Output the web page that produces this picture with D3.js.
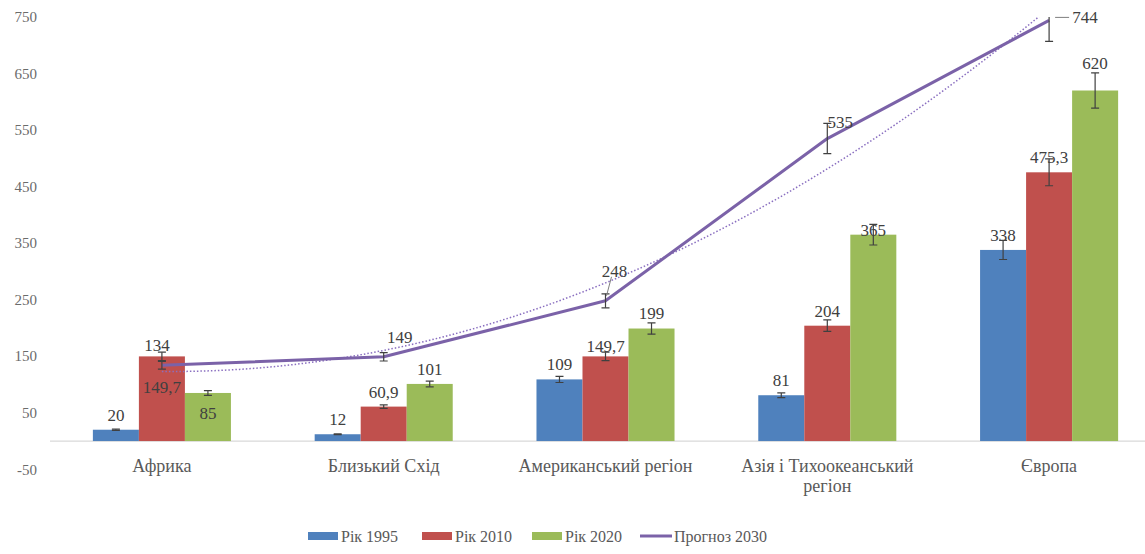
<!DOCTYPE html>
<html>
<head>
<meta charset="utf-8">
<script src="https://cdn.jsdelivr.net/npm/d3@7"></script>
<style>
  body { margin: 0; background: #fff; }
</style>
</head>
<body>
<div id="chart"></div>
<script>
// chart data
const regions = ["Африка", "Близький Схід", "Американський регіон", "Азія і Тихоокеанський регіон", "Європа"];
const seriesNames = ["Рік 1995", "Рік 2010", "Рік 2020"];
const values1995 = [20, 12, 109, 81, 338];
const values2010 = [149.7, 60.9, 149.7, 204, 475.3];
const values2020 = [85, 101, 199, 365, 620];
const forecastName = "Прогноз 2030";
const forecast2030 = [134, 149, 248, 535, 744];
const yTicks = [-50, 50, 150, 250, 350, 450, 550, 650, 750];
const errorShare = 0.05; // 5% error bars

const colors = ["#4F81BD", "#C0504D", "#9BBB59"];
const lineColor = "#7B62A8";
const serif = "Liberation Serif";

// label nudges (px) where the original labels were moved by hand
const barLabelDy = {
  "0-1": 46, "0-2": 35, "2-1": 5, "3-2": 10, "4-2": -12
};
const lineLabelOffset = [[-5, -20], [16, -20], [9, -30], [13, -17], [36, -3]];

class BarLineChart {
  constructor(_parentElement) {
    this.parentElement = _parentElement;
    this.initVis();
  }

  initVis() {
    let vis = this;
    vis.width = 1145;
    vis.height = 554;

    vis.svg = d3.select("#" + vis.parentElement)
      .append("svg")
      .attr("width", vis.width)
      .attr("height", vis.height)
      .attr("font-family", serif);

    // scales
    vis.x = d3.scaleBand().domain(regions).range([51, 1160]);
    vis.x1 = d3.scaleBand().domain(seriesNames).range([0, vis.x.bandwidth()]).paddingOuter(0.91);
    vis.y = d3.scaleLinear().domain([-50, 750]).range([469.3, 17]);

    vis.fmt = d3.formatLocale({ decimal: ",", thousands: " ", grouping: [3], currency: ["", ""] }).format("~f");

    vis.svg.append("defs").append("clipPath").attr("id", "plotClip")
      .append("rect")
      .attr("x", 40).attr("y", vis.y(750))
      .attr("width", vis.width - 40).attr("height", vis.y(-50) - vis.y(750));

    vis.wrangleData();
  }

  wrangleData() {
    let vis = this;
    const all = [values1995, values2010, values2020];
    vis.barData = [];
    regions.forEach((r, i) => {
      seriesNames.forEach((s, j) => {
        vis.barData.push({ region: r, series: s, si: j, ri: i, value: all[j][i] });
      });
    });
    vis.lineData = regions.map((r, i) => ({ region: r, value: forecast2030[i], ri: i }));

    // polynomial (order 2) trendline of the forecast series, like the excel one
    const n = forecast2030.length;
    const xs = d3.range(n).map((i) => i + 1);
    let S = [0, 0, 0, 0, 0], T = [0, 0, 0];
    xs.forEach((xv, i) => {
      for (let k = 0; k < 5; k++) S[k] += Math.pow(xv, k);
      for (let k = 0; k < 3; k++) T[k] += Math.pow(xv, k) * forecast2030[i];
    });
    const A = [[S[0], S[1], S[2]], [S[1], S[2], S[3]], [S[2], S[3], S[4]]];
    vis.coef = solve3(A, T);
    vis.updateVis();
  }

  updateVis() {
    let vis = this;
    const y = vis.y, x = vis.x, x1 = vis.x1;

    // y tick labels (no axis line, no grid)
    vis.svg.append("g").selectAll("text")
      .data(yTicks)
      .join("text")
      .attr("x", 37)
      .attr("y", (d) => y(d))
      .attr("dy", "0.35em")
      .attr("text-anchor", "end")
      .attr("font-size", "15px")
      .attr("fill", "#6b6b6b")
      .text((d) => d);

    // category axis at zero
    vis.svg.append("line")
      .attr("x1", 50).attr("x2", vis.width)
      .attr("y1", y(0)).attr("y2", y(0))
      .attr("stroke", "#D9D9D9").attr("stroke-width", 1.2);

    // bars
    vis.svg.append("g").selectAll("rect")
      .data(vis.barData)
      .join("rect")
      .attr("x", (d) => x(d.region) + x1(d.series))
      .attr("y", (d) => y(d.value))
      .attr("width", x1.bandwidth())
      .attr("height", (d) => y(0) - y(d.value))
      .attr("fill", (d) => colors[d.si]);

    // error bars (bars and forecast line)
    const errG = vis.svg.append("g").attr("clip-path", "url(#plotClip)");
    const barErr = vis.barData.map((d) => ({ cx: x(d.region) + x1(d.series) + x1.bandwidth() / 2, v: d.value }));
    const lineErr = vis.lineData.map((d) => ({ cx: x(d.region) + x.bandwidth() / 2, v: d.value }));

    // trendline (dotted)
    const xPos = (t) => x(regions[0]) + x.bandwidth() / 2 + (t - 1) * x.step();
    const trend = d3.range(1, 5.001, 0.05).map((t) => [xPos(t), y(vis.coef[0] + vis.coef[1] * t + vis.coef[2] * t * t)]);
    vis.svg.append("path")
      .attr("clip-path", "url(#plotClip)")
      .attr("d", d3.line()(trend))
      .attr("fill", "none")
      .attr("stroke", "#8A6FC0")
      .attr("stroke-width", 1.5)
      .attr("stroke-dasharray", "1.5,2");

    // forecast line
    vis.svg.append("path")
      .datum(vis.lineData)
      .attr("d", d3.line().x((d) => x(d.region) + x.bandwidth() / 2).y((d) => y(d.value)))
      .attr("fill", "none")
      .attr("stroke", lineColor)
      .attr("stroke-width", 3)
      .attr("stroke-linejoin", "round");

    [...barErr, ...lineErr].forEach((e) => {
      const lo = y(e.v * (1 - errorShare)), hi = y(e.v * (1 + errorShare));
      errG.append("line").attr("x1", e.cx).attr("x2", e.cx).attr("y1", lo).attr("y2", hi)
        .attr("stroke", "#404040").attr("stroke-width", 1.2);
      [lo, hi].forEach((yy) => {
        errG.append("line").attr("x1", e.cx - 4).attr("x2", e.cx + 4).attr("y1", yy).attr("y2", yy)
          .attr("stroke", "#404040").attr("stroke-width", 1.2);
      });
    });
    errG.raise();

    // bar value labels
    vis.svg.append("g").selectAll("text")
      .data(vis.barData)
      .join("text")
      .attr("x", (d) => x(d.region) + x1(d.series) + x1.bandwidth() / 2)
      .attr("y", (d) => y(d.value) - 15 + (barLabelDy[d.ri + "-" + d.si] || 0))
      .attr("dy", "0.35em")
      .attr("text-anchor", "middle")
      .attr("font-size", "17px")
      .attr("fill", "#404040")
      .text((d) => vis.fmt(d.value));

    // line value labels
    vis.svg.append("g").selectAll("text")
      .data(vis.lineData)
      .join("text")
      .attr("x", (d) => x(d.region) + x.bandwidth() / 2 + lineLabelOffset[d.ri][0])
      .attr("y", (d) => y(d.value) + lineLabelOffset[d.ri][1])
      .attr("dy", "0.35em")
      .attr("text-anchor", "middle")
      .attr("font-size", "17px")
      .attr("fill", "#404040")
      .text((d) => vis.fmt(d.value));

    // leader lines for the moved labels
    [[2, 6, -24, 1, -5], [4, 6, -3, 20, -3]].forEach(([i, x0, y0, xe, ye]) => {
      const cx = x(regions[i]) + x.bandwidth() / 2, cy = y(forecast2030[i]);
      vis.svg.append("line")
        .attr("x1", cx + x0).attr("y1", cy + y0)
        .attr("x2", cx + xe).attr("y2", cy + ye)
        .attr("stroke", "#7F7F7F").attr("stroke-width", 1);
    });

    // category labels
    vis.svg.append("g").selectAll("text")
      .data(regions)
      .join("text")
      .attr("x", (d) => x(d) + x.bandwidth() / 2)
      .attr("y", y(0) + 31)
      .attr("text-anchor", "middle")
      .attr("font-size", "18px")
      .attr("fill", "#595959")
      .text((d) => d)
      .call(wrap, 200);

    // legend
    const legend = vis.svg.append("g").attr("transform", "translate(308, 536)");
    const items = [...seriesNames, forecastName];
    const itemX = [0, 114, 224, 332];
    items.forEach((name, i) => {
      const g = legend.append("g").attr("transform", `translate(${itemX[i]}, 0)`);
      if (i < 3) {
        g.append("rect").attr("x", 0).attr("y", -4).attr("width", 30).attr("height", 8).attr("fill", colors[i]);
      } else {
        g.append("line").attr("x1", 0).attr("x2", 32).attr("y1", 0).attr("y2", 0)
          .attr("stroke", lineColor).attr("stroke-width", 3);
      }
      g.append("text")
        .attr("x", i < 3 ? 33 : 34)
        .attr("y", 0)
        .attr("dy", "0.35em")
        .attr("font-size", "16px")
        .attr("fill", "#595959")
        .text(name);
    });
  }
}

// gaussian elimination for a 3x3 system
function solve3(A, b) {
  const M = A.map((row, i) => [...row, b[i]]);
  for (let c = 0; c < 3; c++) {
    for (let r = c + 1; r < 3; r++) {
      const f = M[r][c] / M[c][c];
      for (let k = c; k < 4; k++) M[r][k] -= f * M[c][k];
    }
  }
  const out = [0, 0, 0];
  for (let r = 2; r >= 0; r--) {
    let s = M[r][3];
    for (let k = r + 1; k < 3; k++) s -= M[r][k] * out[k];
    out[r] = s / M[r][r];
  }
  return out;
}

// wrap long category names onto two lines
function wrap(text, width) {
  text.each(function () {
    const t = d3.select(this);
    const words = t.text().split(/\s+/);
    const x0 = t.attr("x"), y0 = t.attr("y");
    let line = [], lineNo = 0;
    let tspan = t.text(null).append("tspan").attr("x", x0).attr("y", y0);
    words.forEach((w) => {
      line.push(w);
      tspan.text(line.join(" "));
      if (tspan.node().getComputedTextLength() > width && line.length > 1) {
        line.pop();
        tspan.text(line.join(" "));
        line = [w];
        lineNo++;
        tspan = t.append("tspan").attr("x", x0).attr("y", +y0 + lineNo * 20).text(w);
      }
    });
  });
}

new BarLineChart("chart");
</script>
</body>
</html>
